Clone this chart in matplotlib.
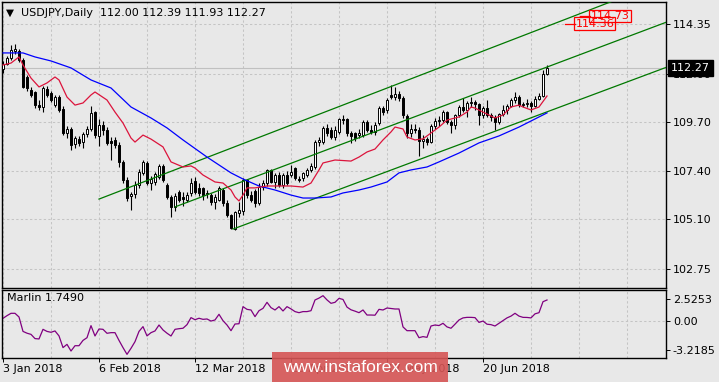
import numpy as np
import matplotlib.pyplot as plt
from matplotlib.patches import Rectangle
from matplotlib.transforms import blended_transform_factory

# Dane dzienne USDJPY
opens = [112.20, 112.45, 112.72, 113.05, 113.05, 112.65, 111.85, 111.22, 111.14, 110.52,
         110.44, 111.27, 111.07, 110.52, 110.91, 110.33, 109.17, 109.36, 108.65, 108.91,
         108.75, 109.13, 109.36, 110.17, 109.06, 109.57, 109.33, 108.81, 108.84, 108.62,
         107.80, 106.96, 106.21, 106.29, 106.73, 107.28, 107.79, 106.81, 106.89, 107.12,
         107.63, 106.73, 106.17, 105.70, 106.41, 106.14, 106.02, 106.33, 106.90, 106.57,
         106.57, 106.33, 106.25, 105.94, 106.02, 106.49, 105.86, 105.31, 104.63, 105.40,
         105.50, 106.96, 106.26, 106.45, 105.86, 106.65, 106.81, 107.44, 106.85, 107.20,
         106.73, 107.20, 107.20, 107.52, 107.02, 107.04, 107.20, 107.45, 107.60, 108.78,
         108.78, 109.44, 109.33, 109.00, 109.25, 109.84, 109.84, 109.17, 109.17, 109.10,
         109.10, 109.72, 109.33, 109.25, 109.65, 110.36, 110.26, 110.99, 110.88, 111.04,
         110.83, 110.00, 109.20, 109.40, 109.35, 108.80, 108.90, 108.75, 109.50, 109.75,
         109.80, 110.18, 109.70, 109.55, 110.05, 110.40, 110.30, 110.60, 110.65, 110.55,
         110.05, 110.35, 110.05, 109.95, 109.70, 110.10, 110.30, 110.45, 110.75, 110.90,
         110.50, 110.55, 110.60, 110.45, 110.80, 110.95, 112.00]
highs = [112.60, 112.85, 113.35, 113.38, 113.18, 112.75, 111.95, 111.35, 111.20, 110.75,
         111.40, 111.40, 111.20, 111.00, 111.00, 110.45, 109.50, 109.45, 109.05, 109.05,
         109.25, 109.50, 110.45, 110.25, 109.85, 109.75, 109.45, 109.00, 109.00, 108.75,
         107.90, 107.10, 106.40, 106.90, 107.50, 107.90, 107.85, 107.15, 107.35, 107.70,
         107.70, 106.80, 106.25, 106.35, 106.50, 106.40, 106.40, 107.05, 107.10, 106.80,
         106.65, 106.50, 106.35, 106.30, 106.70, 106.60, 106.00, 105.35, 105.50, 105.90,
         107.05, 107.00, 106.45, 106.55, 106.80, 106.95, 107.50, 107.50, 107.30, 107.35,
         107.30, 107.40, 107.67, 107.60, 107.15, 107.35, 107.55, 107.75, 108.85, 109.00,
         109.50, 109.60, 109.45, 109.50, 109.90, 110.05, 109.90, 109.30, 109.25, 109.40,
         109.80, 109.80, 109.55, 109.70, 110.45, 110.45, 110.85, 111.46, 111.35, 111.20,
         110.95, 110.10, 109.60, 109.60, 109.45, 109.10, 109.00, 109.60, 109.90, 110.00,
         110.30, 110.25, 109.80, 110.10, 110.50, 110.85, 110.70, 110.90, 110.75, 110.60,
         110.45, 110.75, 110.15, 110.05, 110.15, 110.50, 110.55, 110.85, 111.15, 111.00,
         110.65, 110.80, 110.70, 110.95, 111.10, 112.15, 112.39]
lows = [112.05, 112.40, 112.65, 112.95, 112.55, 111.30, 111.20, 110.90, 110.36, 110.28,
        110.20, 110.90, 110.65, 110.40, 110.20, 109.10, 108.95, 108.40, 108.50, 108.55,
        108.50, 109.00, 109.30, 108.95, 108.55, 109.10, 108.60, 107.90, 108.50, 107.60,
        106.80, 105.95, 105.54, 106.10, 106.60, 107.20, 106.75, 106.50, 106.75, 107.00,
        106.85, 106.05, 105.23, 105.50, 105.90, 105.75, 105.90, 106.20, 106.30, 106.20,
        106.00, 106.10, 105.80, 105.60, 105.95, 105.75, 105.20, 104.63, 104.60, 105.20,
        105.30, 106.10, 105.90, 105.70, 105.80, 106.50, 106.70, 106.80, 106.60, 106.65,
        106.60, 106.75, 107.10, 106.95, 106.85, 106.90, 107.10, 107.35, 107.50, 108.55,
        108.65, 109.05, 108.90, 108.85, 109.15, 109.60, 109.05, 108.70, 108.80, 108.95,
        109.00, 109.25, 109.15, 109.10, 109.55, 110.05, 110.15, 110.80, 110.75, 110.70,
        109.90, 108.95, 109.00, 109.20, 108.11, 108.50, 108.60, 108.70, 109.40, 109.50,
        109.70, 109.60, 109.20, 109.40, 109.95, 110.20, 109.95, 110.40, 110.30, 109.55,
        109.90, 109.95, 109.75, 109.35, 109.60, 110.00, 110.10, 110.40, 110.60, 110.40,
        110.40, 110.40, 110.20, 110.40, 110.75, 110.90, 111.93]
closes = [112.45, 112.76, 113.10, 113.15, 112.65, 111.38, 111.30, 110.99, 110.52, 110.42,
          111.30, 110.99, 110.75, 110.91, 110.28, 109.17, 109.36, 108.62, 108.94, 108.70,
          109.13, 109.36, 110.12, 109.09, 109.57, 109.33, 108.70, 108.70, 108.62, 107.80,
          106.96, 106.09, 106.32, 106.73, 107.36, 107.83, 106.81, 107.00, 107.23, 107.63,
          106.96, 106.17, 105.70, 106.21, 106.02, 106.05, 106.25, 106.84, 106.40, 106.33,
          106.25, 106.30, 105.94, 106.17, 106.57, 105.86, 105.31, 104.68, 105.46, 105.55,
          106.96, 106.26, 106.00, 105.86, 106.65, 106.81, 107.44, 106.88, 107.20, 106.73,
          107.20, 106.80, 107.35, 107.04, 106.96, 107.28, 107.44, 107.63, 108.78, 108.86,
          109.44, 109.17, 109.00, 109.33, 109.84, 109.80, 109.17, 109.05, 108.94, 109.17,
          109.72, 109.33, 109.25, 109.57, 110.36, 110.20, 110.75, 110.91, 111.04, 110.83,
          110.04, 109.20, 109.40, 109.35, 108.80, 108.90, 108.75, 109.50, 109.75, 109.80,
          110.18, 109.70, 109.55, 110.05, 110.40, 110.30, 110.60, 110.65, 110.55, 110.05,
          110.35, 110.05, 109.95, 109.70, 110.10, 110.30, 110.45, 110.75, 110.90, 110.50,
          110.55, 110.60, 110.45, 110.80, 110.95, 112.00, 112.27]

# linia czerwona (szybka srednia) i niebieska (wolna srednia)
red_bars = [0, 2, 4, 5, 7, 9, 11, 13, 14, 16, 18, 20, 22, 23, 26, 28, 30, 32, 33, 35, 37,
            40, 42, 45, 47, 48, 50, 53, 55, 57, 58, 59, 60, 61, 63, 66, 72, 75, 77, 79, 80,
            83, 87, 89, 91, 93, 95, 97, 98, 100, 101, 103, 105, 109, 111, 114, 116, 117,
            118, 120, 123, 125, 127, 129, 130, 132, 134, 136]
red_vals = [112.41, 112.50, 112.79, 112.41, 111.79, 111.37, 111.56, 111.84, 111.70, 110.89,
            110.51, 110.61, 110.99, 111.13, 110.75, 110.18, 109.66, 108.95, 108.76, 109.09,
            108.90, 108.53, 107.82, 107.58, 107.63, 107.53, 107.20, 106.87, 106.82, 106.49,
            106.16, 105.97, 106.25, 106.59, 106.59, 106.68, 106.68, 106.63, 106.82, 107.44,
            107.77, 107.91, 107.86, 108.05, 108.29, 108.43, 108.86, 109.24, 109.47, 109.38,
            109.00, 108.86, 108.91, 109.47, 109.80, 109.95, 110.18, 110.42, 110.37, 110.18,
            109.90, 110.04, 110.42, 110.51, 110.42, 110.28, 110.42, 110.94]
blue_bars = [0, 5, 8, 12, 17, 22, 27, 32, 37, 41, 45, 51, 57, 60, 64, 68, 72, 75, 78, 82,
             85, 89, 92, 96, 99, 102, 106, 109, 114, 119, 124, 129, 136]
blue_vals = [112.98, 112.98, 112.79, 112.60, 112.27, 111.70, 111.32, 110.42, 109.90, 109.43,
             108.86, 108.05, 107.30, 107.01, 106.68, 106.49, 106.25, 106.11, 106.11, 106.16,
             106.35, 106.49, 106.63, 106.87, 107.30, 107.44, 107.58, 107.82, 108.24, 108.72,
             109.05, 109.47, 110.14]

# kanal trendu: (bar startowy, cena startowa, nachylenie na bar)
channel = [(24, 106.06, 0.0730), (43, 105.69, 0.0712), (57.5, 104.64, 0.0707)]

marlin = [0.35, 0.65, 0.91, 0.91, 0.50, -1.10, -1.30, -1.43, -1.90, -1.94,
          -0.87, -1.10, -1.20, -1.05, -1.60, -2.90, -2.54, -3.28, -2.69, -2.69,
          -2.10, -1.80, -0.46, -1.61, -0.83, -0.87, -1.31, -1.24, -1.24, -2.10,
          -2.90, -3.65, -2.98, -2.24, -1.10, -0.57, -1.60, -1.24, -1.05, -0.39,
          -0.94, -1.30, -1.61, -0.87, -0.80, -0.75, -0.35, 0.43, 0.20, 0.36,
          0.24, 0.28, 0.05, 0.17, 0.80, 0.09, -0.39, -1.02, -0.28, -0.25,
          1.65, 1.35, 1.28, 0.54, 1.20, 1.46, 2.13, 1.54, 1.28, 1.65,
          1.17, 1.65, 1.40, 1.10, 0.98, 1.10, 1.10, 1.20, 2.39, 2.60,
          2.87, 2.40, 2.02, 2.13, 2.57, 2.45, 1.60, 1.30, 1.15, 0.98,
          1.28, 0.72, 0.72, 0.70, 1.35, 1.28, 1.50, 1.45, 1.39, 1.39,
          -0.60, -1.02, -1.02, -1.02, -1.80, -1.68, -1.76, -0.50, -0.39, -0.45,
          -0.20, -0.60, -0.75, -0.30, 0.17, 0.40, 0.46, 0.46, 0.43, -0.10,
          0.05, -0.30, -0.35, -0.50, -0.20, 0.10, 0.40, 0.60, 0.91, 0.60,
          0.46, 0.45, 0.40, 0.85, 0.98, 2.20, 2.39]

date_pos = [0, 24, 48, 72, 96, 120]
date_labels = ['3 Jan 2018', '6 Feb 2018', '12 Mar 2018', '13 Apr 2018', '17 May 2018', '20 Jun 2018']
price_ticks = [114.35, 112.00, 109.70, 107.40, 105.10, 102.75]
marlin_ticks = [2.5253, 0.00, -3.2185]
last_price = 112.27
targets = [114.73, 114.36]
target_bars = [144.25, 140.5]

BG = '#e8e8e8'
GRID = '#c4c4c4'
plt.rcParams['font.family'] = 'DejaVu Sans'
plt.rcParams['font.size'] = 8

fig = plt.figure(figsize=(7.19, 3.82), dpi=100, facecolor=BG)
ax = fig.add_axes([2 / 719, 1 - 288 / 382, 664 / 719, 286.5 / 382], facecolor=BG)
ax2 = fig.add_axes([2 / 719, 1 - 358 / 382, 664 / 719, 68 / 382], facecolor=BG)

x_lo, x_hi = -0.25, 165.75
x = np.arange(len(closes))
o = np.array(opens); c = np.array(closes)

# siatka
for a in (ax, ax2):
    for g in range(0, 166, 12):
        a.axvline(g, color=GRID, lw=0.75, ls=(0, (2.2, 2.2)), zorder=0)
for p in price_ticks:
    ax.axhline(p, color=GRID, lw=0.75, ls=(0, (2.2, 2.2)), zorder=0)
ax2.axhline(0, color=GRID, lw=0.75, ls=(0, (2.2, 2.2)), zorder=0)
ax.axhline(last_price, color='#c0c0c0', lw=0.8, zorder=0.5)

# swiece
ax.vlines(x, lows, highs, color='black', lw=0.8, zorder=2)
up = c >= o
body = np.maximum(np.abs(c - o), 0.03)
ax.bar(x[up], body[up], bottom=o[up], width=0.72, color='white', edgecolor='black', lw=0.7, zorder=3)
ax.bar(x[~up], body[~up], bottom=c[~up], width=0.72, color='black', edgecolor='black', lw=0.7, zorder=3)

# kanal
for b0, p0, k in channel:
    ax.plot([b0, x_hi], [p0, p0 + k * (x_hi - b0)], color='#007800', lw=0.9, zorder=4)

ax.plot(blue_bars, blue_vals, color='#0000ff', lw=0.9, zorder=4)
ax.plot(red_bars, red_vals, color='#dc143c', lw=0.9, zorder=4)

# cele cenowe
for t, tb in zip(targets, target_bars):
    ax.plot([tb, tb + 2.5], [t, t], color='red', lw=0.9, zorder=5)
    ax.text(tb + 2.6, t, f'{t:.2f}', color='red', ha='left', va='center', fontsize=8,
            bbox=dict(boxstyle='square,pad=0.12', fc='none', ec='red', lw=0.9), zorder=5)

ax.set_xlim(x_lo, x_hi)
ax.set_ylim(101.85, 115.415)
ax.set_xticks([])
ax.yaxis.tick_right()
ax.set_yticks(price_ticks)
ax.set_yticklabels([f'{p:.2f}' for p in price_ticks])
ax.tick_params(axis='y', length=3, width=0.7, pad=2, colors='black', labelsize=8)

tr = blended_transform_factory(ax.transAxes, ax.transData)
ax.text(1.0075, last_price, f'{last_price:.2f}', transform=tr, color='white', ha='left', va='center',
        fontsize=8, clip_on=False, zorder=10,
        bbox=dict(boxstyle='square,pad=0.25', fc='black', ec='black'))

# oscylator Marlin
ax2.plot(x, marlin, color='#800080', lw=0.9)
ax2.set_xlim(x_lo, x_hi)
ax2.set_ylim(-4.056, 3.5)
ax2.yaxis.tick_right()
ax2.set_yticks(marlin_ticks)
ax2.set_yticklabels(['2.5253', '0.00', '-3.2185'])
ax2.tick_params(axis='y', length=3, width=0.7, pad=2, labelsize=8)
ax2.set_xticks(date_pos)
ax2.set_xticklabels(date_labels, ha='left')
ax2.tick_params(axis='x', length=3, width=0.7, pad=1.5, labelsize=8)

for a in (ax, ax2):
    for s in a.spines.values():
        s.set_linewidth(1.0)
        s.set_color('black')

fig.text(6 / 719, 1 - 13 / 382, '\u25bc', fontsize=7.5, va='center', ha='left')
fig.text(21 / 719, 1 - 13 / 382, 'USDJPY,Daily  112.00 112.39 111.93 112.27', fontsize=8, va='center', ha='left')
fig.text(7 / 719, 1 - 298 / 382, 'Marlin 1.7490', fontsize=8, va='center', ha='left')

# znak wodny
fig.patches.append(Rectangle((272 / 719, 0), 176 / 719, 30 / 382, transform=fig.transFigure,
                             facecolor='#d65555', alpha=0.9, edgecolor='none', zorder=20))
fig.text(360 / 719, 1 - 367 / 382, 'www.instaforex.com', color='white', fontsize=12.5,
         family='Liberation Sans', ha='center', va='center', zorder=21)

fig.savefig('out.png', dpi=100, facecolor=BG)
